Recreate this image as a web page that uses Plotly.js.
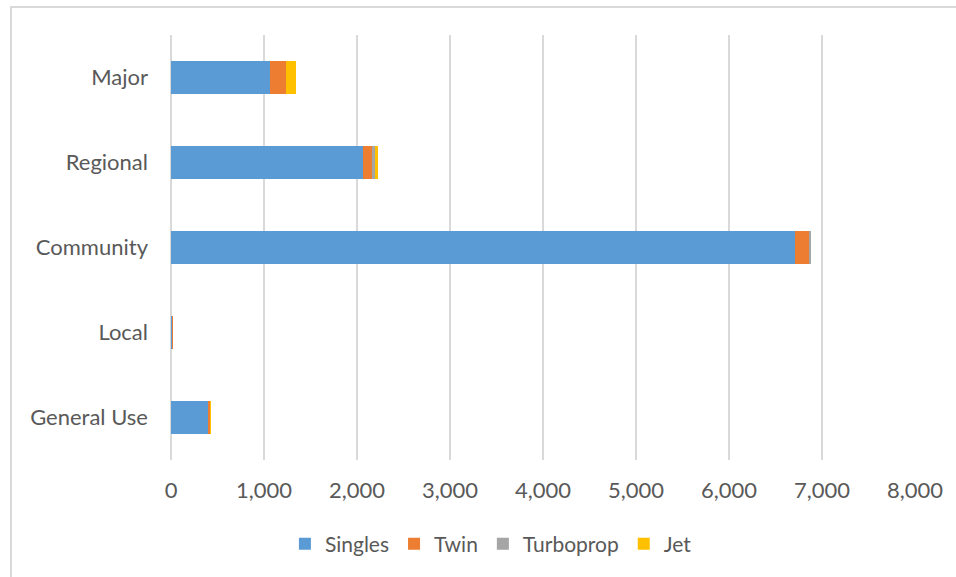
<!DOCTYPE html>
<html>
<head>
<meta charset="utf-8">
<script src="https://cdn.plot.ly/plotly-3.0.1.min.js"></script>
<style>
  html, body { margin: 0; padding: 0; background: #fff; }
  #frame { position: absolute; left: 10px; top: 6px; width: 1000px; height: 600px;
           border-left: 2px solid #d9d9d9; border-top: 2px solid #d9d9d9; }
  #chart { position: absolute; left: 0; top: 0; width: 956px; height: 577px; }
</style>
</head>
<body>
<div id="frame"></div>
<div id="chart"></div>
<script>
// Aircraft counts by airport classification
const categories = ['Major', 'Regional', 'Community', 'Local', 'General Use'];
const singles    = [1065, 2068, 6713, 12, 401];
const twin       = [172, 97, 151, 10, 18];
const turboprop  = [0, 25, 14, 2, 3];
const jet        = [107, 32, 7, 0, 8];
const xTicks     = [0, 1000, 2000, 3000, 4000, 5000, 6000, 7000, 8000];
const xTickText  = ['0', '1,000', '2,000', '3,000', '4,000', '5,000', '6,000', '7,000', '8,000'];

const series = [
  { name: 'Singles',   values: singles,   color: '#5b9bd5' },
  { name: 'Twin',      values: twin,      color: '#ed7d31' },
  { name: 'Turboprop', values: turboprop, color: '#a5a5a5' },
  { name: 'Jet',       values: jet,       color: '#ffc000' }
];

const traces = series.map(s => ({
  type: 'bar',
  orientation: 'h',
  name: s.name,
  x: s.values,
  y: categories,
  marker: { color: s.color, line: { width: 0 } },
  hoverinfo: 'x+name'
}));

const font = { family: 'Lato, "Open Sans", sans-serif', color: '#595959', size: 22 };

const layout = {
  width: 956,
  height: 577,
  margin: { l: 171, r: 41, t: 35, b: 117 },
  paper_bgcolor: 'rgba(0,0,0,0)',
  plot_bgcolor: 'rgba(0,0,0,0)',
  barmode: 'stack',
  bargap: 0.61,
  font: font,
  showlegend: true,
  legend: {
    orientation: 'h',
    x: 0.43, xanchor: 'center',
    y: -0.198, yanchor: 'middle',
    font: { family: font.family, color: '#595959', size: 21 },
    itemwidth: 30,
    traceorder: 'normal'
  },
  xaxis: {
    range: [0, 8000],
    tickvals: xTicks,
    ticktext: xTickText,
    showgrid: true,
    gridcolor: '#d9d9d9',
    gridwidth: 1.3,
    zeroline: true,
    zerolinecolor: '#d9d9d9',
    zerolinewidth: 1.3,
    showline: false,
    ticks: '',
    ticklabelstandoff: 15,
    tickfont: font,
    fixedrange: true
  },
  yaxis: {
    type: 'category',
    autorange: 'reversed',
    showgrid: false,
    zeroline: false,
    showline: false,
    ticks: '',
    ticklabelstandoff: 22,
    tickfont: font,
    fixedrange: true
  }
};

Plotly.newPlot('chart', traces, layout, { displayModeBar: false, staticPlot: true });
</script>
</body>
</html>
